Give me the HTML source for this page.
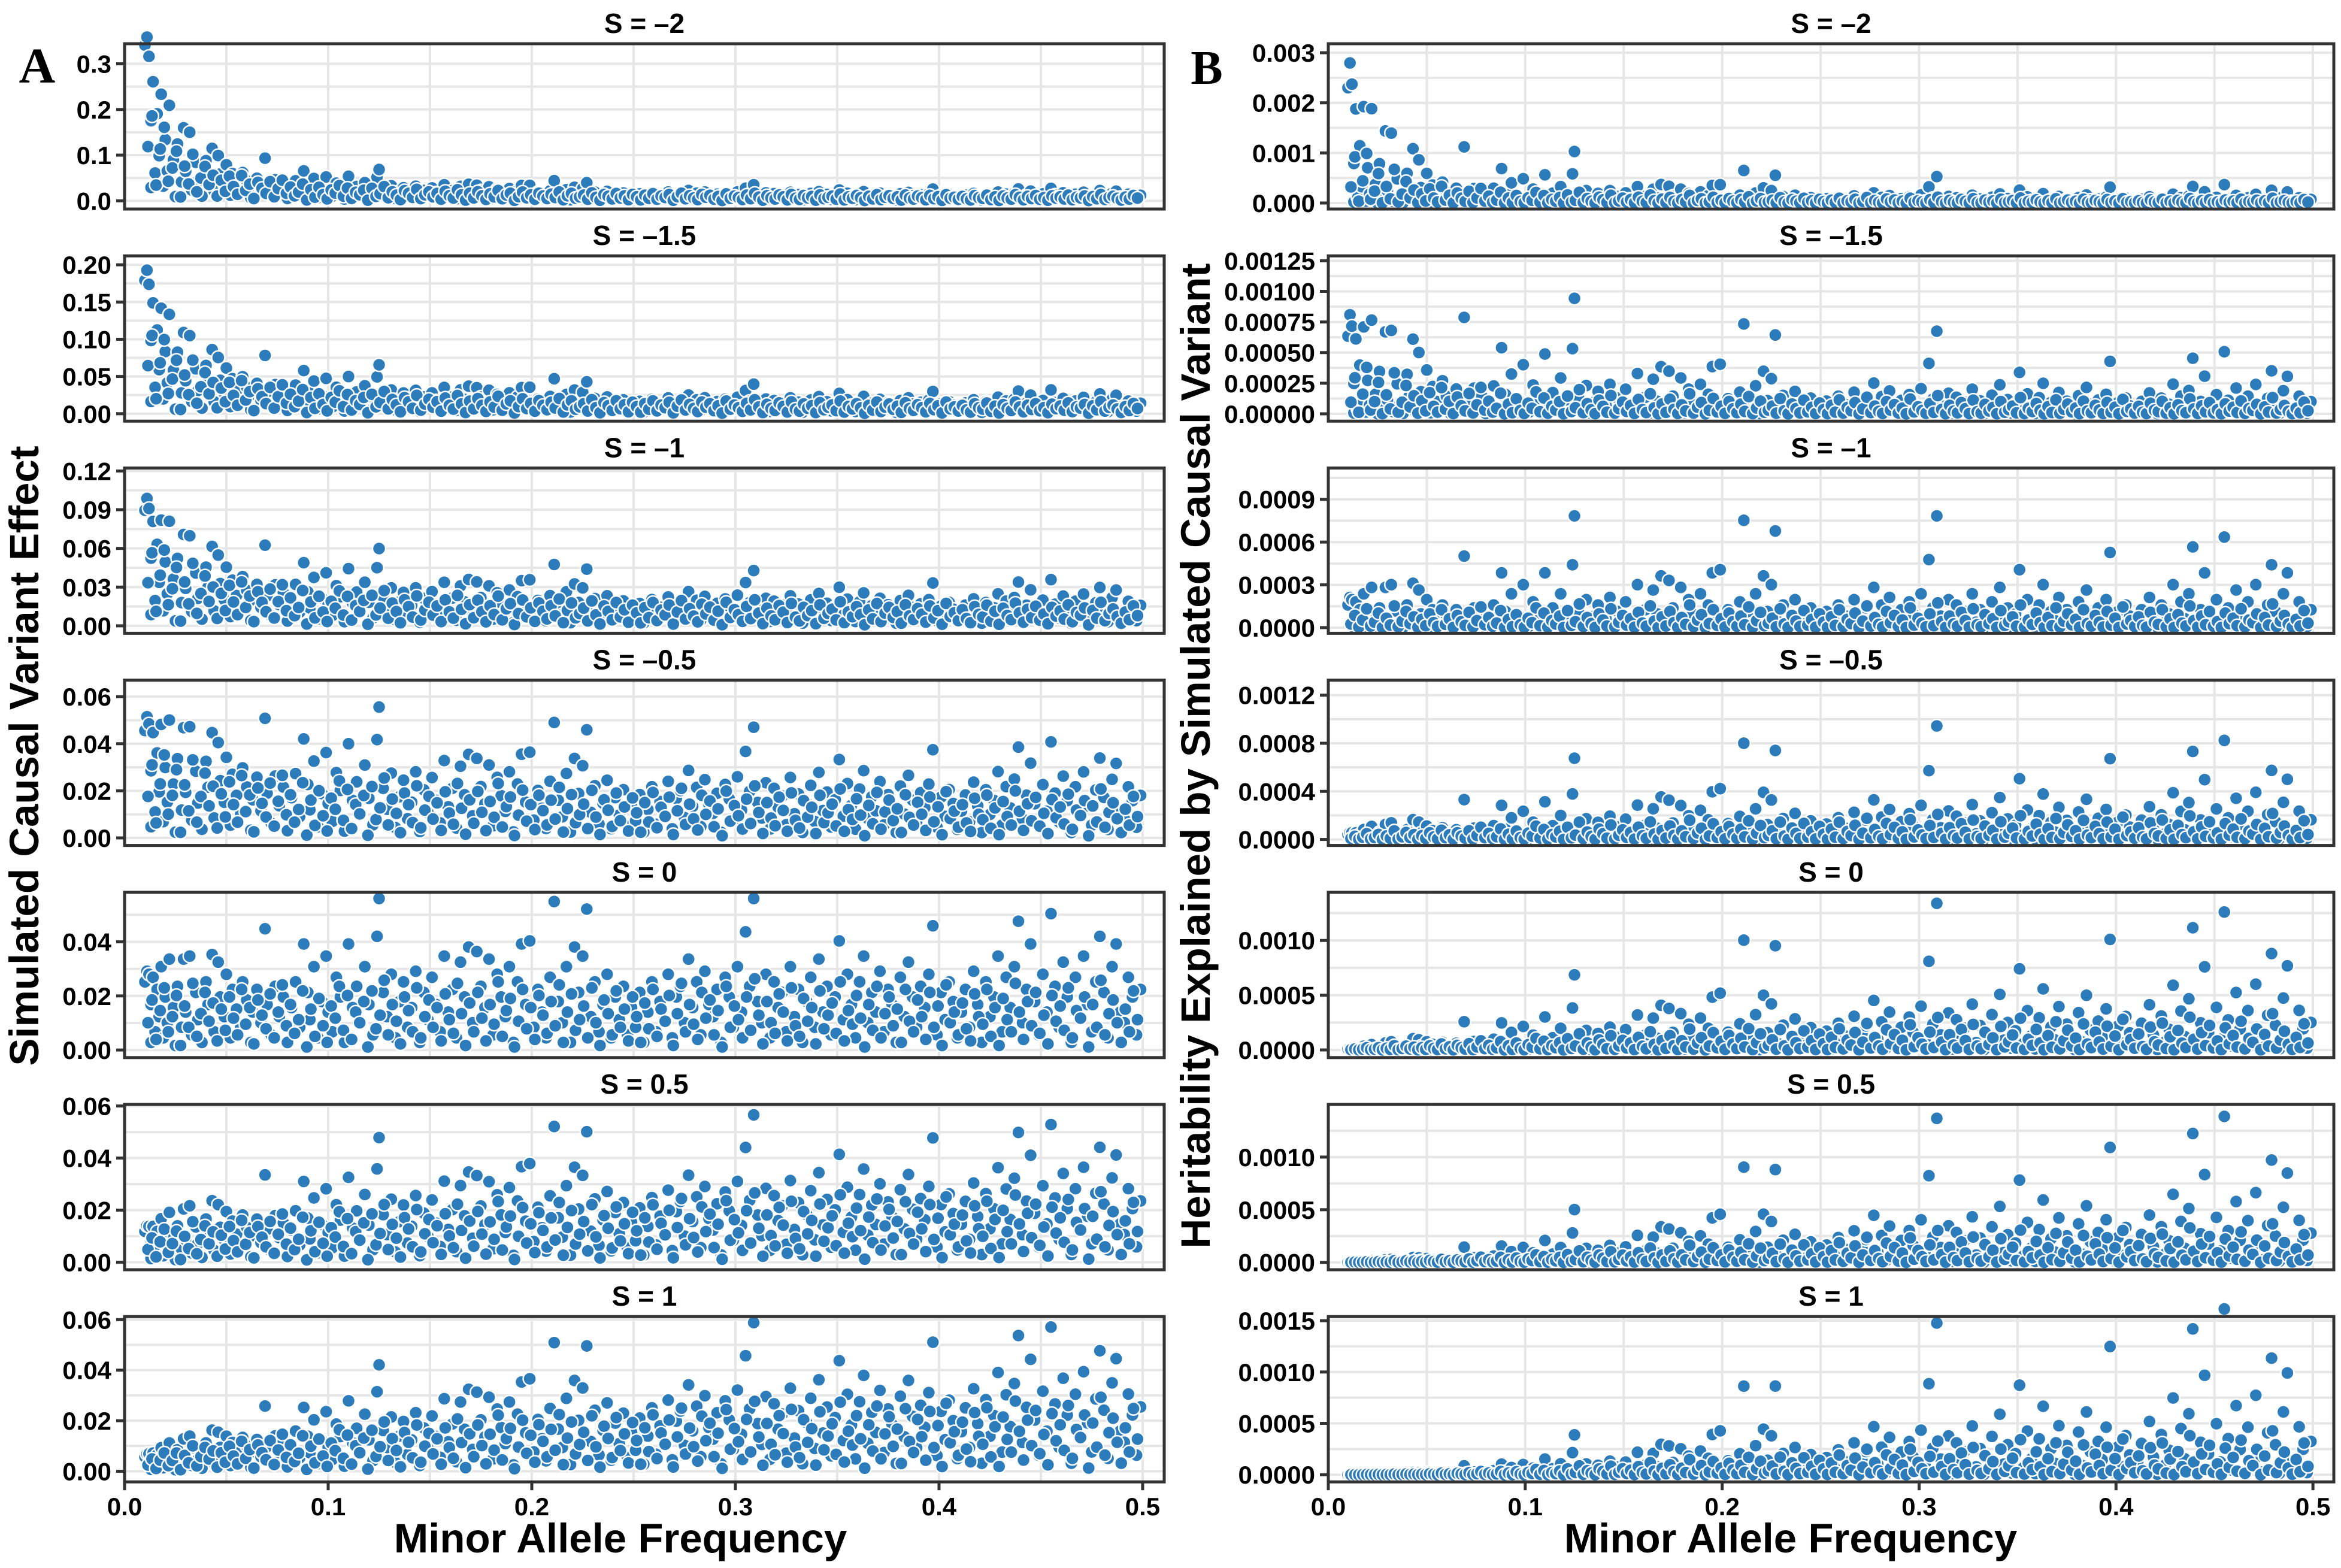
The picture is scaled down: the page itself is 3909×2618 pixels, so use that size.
<!DOCTYPE html>
<html><head><meta charset="utf-8">
<style>
html,body{margin:0;padding:0;background:#fff;}
svg{display:block;font-family:"Liberation Sans","DejaVu Sans",sans-serif;}
</style></head>
<body>
<svg id="fig" width="3909" height="2618" viewBox="0 0 3909 2618">
<text x="62" y="138" font-family="Liberation Serif, serif" font-weight="bold" font-size="84" text-anchor="middle">A</text>
<text x="2015" y="140" font-family="Liberation Serif, serif" font-weight="bold" font-size="80" text-anchor="middle">B</text>
<text transform="translate(64,1262) rotate(-90)" font-weight="bold" font-size="69" text-anchor="middle">Simulated Causal Variant Effect</text>
<text transform="translate(2020,1262) rotate(-90)" font-weight="bold" font-size="69" text-anchor="middle">Heritability Explained by Simulated Causal Variant</text>
<text x="1036" y="2592" font-weight="bold" font-size="69" text-anchor="middle">Minor Allele Frequency</text>
<text x="2990" y="2592" font-weight="bold" font-size="69" text-anchor="middle">Minor Allele Frequency</text>
</svg>
<script>
// shared variants: minor allele frequency and standardized effect magnitude
const maf=[0.010,0.011,0.012,0.013,0.013,0.014,0.015,0.016,0.017,0.018,0.019,0.020,0.021,0.022,0.024,0.025,0.026,0.028,0.029,0.030,0.032,0.033,0.035,0.036,0.038,0.040,0.041,0.043,0.044,0.046,0.047,0.049,0.050,0.052,0.053,0.055,0.057,0.058,0.060,0.062,0.063,0.065,0.067,0.069,0.070,0.072,0.074,0.076,0.078,0.080,0.082,0.084,0.086,0.088,0.090,0.091,0.093,0.095,0.097,0.099,0.100,0.102,0.104,0.106,0.108,0.110,0.112,0.114,0.116,0.118,0.120,0.122,0.124,0.125,0.127,0.129,0.131,0.133,0.135,0.137,0.139,0.141,0.143,0.145,0.147,0.149,0.151,0.153,0.155,0.157,0.159,0.161,0.163,0.165,0.167,0.169,0.171,0.173,0.175,0.177,0.179,0.181,0.183,0.185,0.187,0.189,0.191,0.193,0.195,0.197,0.199,0.201,0.203,0.205,0.207,0.209,0.211,0.213,0.215,0.217,0.219,0.221,0.223,0.225,0.227,0.229,0.231,0.233,0.235,0.237,0.239,0.241,0.243,0.245,0.247,0.249,0.251,0.253,0.255,0.257,0.259,0.261,0.263,0.265,0.267,0.269,0.271,0.273,0.275,0.277,0.279,0.281,0.283,0.285,0.287,0.289,0.291,0.293,0.295,0.297,0.299,0.301,0.303,0.305,0.307,0.309,0.311,0.313,0.315,0.317,0.319,0.321,0.323,0.325,0.327,0.329,0.331,0.333,0.335,0.337,0.339,0.341,0.343,0.345,0.347,0.349,0.351,0.353,0.355,0.357,0.359,0.361,0.363,0.365,0.367,0.369,0.371,0.373,0.375,0.377,0.379,0.381,0.383,0.385,0.387,0.389,0.391,0.393,0.395,0.397,0.399,0.401,0.403,0.405,0.407,0.409,0.411,0.413,0.415,0.417,0.419,0.421,0.423,0.425,0.427,0.429,0.431,0.433,0.435,0.437,0.439,0.441,0.443,0.445,0.447,0.449,0.451,0.453,0.455,0.457,0.459,0.461,0.463,0.465,0.467,0.469,0.471,0.473,0.475,0.477,0.479,0.481,0.483,0.485,0.487,0.489,0.491,0.493,0.495,0.497,0.499,
0.0115,0.0135,0.0155,0.0175,0.0195,0.0215,0.0235,0.0255,0.0275,0.0295,0.0315,0.0335,0.0355,0.0375,0.0395,0.0415,0.0435,0.0455,0.0475,0.0495,0.0515,0.0535,0.0555,0.0575,0.0595,0.0615,0.0635,0.0655,0.0675,0.0695,0.0715,0.0735,0.0755,0.0775,0.0795,0.0815,0.0835,0.0855,0.0875,0.0895,0.0915,0.0935,0.0955,0.0975,0.0995,0.1015,0.1035,0.1055,0.1075,0.1095,0.1115,0.1135,0.1155,0.1175,0.1195,0.1215,0.1235,0.1255,0.1275,0.1295,0.1315,0.1335,0.1355,0.1375,0.1395,0.1415,0.1435,0.1455,0.1475,0.1495,0.1515,0.1535,0.1555,0.1575,0.1595,0.1615,0.1635,0.1655,0.1675,0.1695,0.1715,0.1735,0.1755,0.1775,0.1795,0.1815,0.1835,0.1855,0.1875,0.1895,0.1915,0.1935,0.1955,0.1975,0.1995,0.2015,0.2035,0.2055,0.2075,0.2095,0.2115,0.2135,0.2155,0.2175,0.2195,0.2215,0.2235,0.2255,0.2275,0.2295,0.2315,0.2335,0.2355,0.2375,0.2395,0.2415,0.2435,0.2455,0.2475,0.2495,0.2515,0.2535,0.2555,0.2575,0.2595,0.2615,0.2635,0.2655,0.2675,0.2695,0.2715,0.2735,0.2755,0.2775,0.2795,0.2815,0.2835,0.2855,0.2875,0.2895,0.2915,0.2935,0.2955,0.2975,0.2995,0.3015,0.3035,0.3055,0.3075,0.3095,0.3115,0.3135,0.3155,0.3175,0.3195,0.3215,0.3235,0.3255,0.3275,0.3295,0.3315,0.3335,0.3355,0.3375,0.3395,0.3415,0.3435,0.3455,0.3475,0.3495,0.3515,0.3535,0.3555,0.3575,0.3595,0.3615,0.3635,0.3655,0.3675,0.3695,0.3715,0.3735,0.3755,0.3775,0.3795,0.3815,0.3835,0.3855,0.3875,0.3895,0.3915,0.3935,0.3955,0.3975,0.3995,0.4015,0.4035,0.4055,0.4075,0.4095,0.4115,0.4135,0.4155,0.4175,0.4195,0.4215,0.4235,0.4255,0.4275,0.4295,0.4315,0.4335,0.4355,0.4375,0.4395,0.4415,0.4435,0.4455,0.4475,0.4495,0.4515,0.4535,0.4555,0.4575,0.4595,0.4615,0.4635,0.4655,0.4675,0.4695,0.4715,0.4735,0.4755,0.4775,0.4795,0.4815,0.4835,0.4855,0.4875,0.4895,0.4915,0.4935,0.4955,0.4975];
const effectZ=[.45,.52,.50,.05,.30,.48,.12,.40,.22,.55,.08,.35,.18,.60,.28,.03,.42,.15,.60,.25,.62,.10,.38,.20,.05,.45,.30,.63,.12,.58,.35,.22,.50,.08,.40,.27,.15,.45,.33,.05,.25,.40,.18,.80,.30,.10,.42,.22,.35,.05,.28,.45,.15,.70,.38,.20,.55,.08,.32,.62,.25,.12,.48,.35,.05,.70,.28,.42,.18,.55,.30,.10,.75,1.0,.38,.22,.50,.08,.32,.45,.15,.28,.52,.05,.38,.20,.48,.30,.12,.62,.25,.40,.08,.58,.35,.68,.18,.65,.42,.28,.60,.10,.50,.35,.22,.55,.05,.45,.70,.30,.72,.15,.40,.25,.08,.48,.98,.32,.18,.55,.05,.68,.38,.62,.93,.22,.45,.12,.30,.50,.08,.35,.20,.42,.10,.28,.15,.38,.05,.25,.45,.12,.32,.20,.50,.08,.35,.42,.18,.60,.28,.45,.10,.52,.30,.22,.40,.05,.48,.35,.15,.55,.25,.78,.42,1.0,.32,.18,.50,.08,.45,.28,.38,.12,.55,.22,.40,.05,.32,.48,.15,.60,.25,.42,.10,.35,.72,.20,.50,.30,.08,.45,.62,.18,.38,.25,.52,.12,.40,.30,.05,.48,.22,.58,.35,.15,.42,.28,.50,.82,.10,.38,.20,.45,.32,.08,.25,.40,.15,.52,.30,.05,.45,.22,.35,.62,.12,.48,.28,.55,.85,.18,.40,.70,.32,.10,.50,.25,.90,.42,.15,.58,.35,.05,.48,.22,.62,.30,.12,.45,.75,.38,.08,.55,.70,.25,.18,.48,.35,.10,.40,
.18,.33,.07,.26,.41,.12,.22,.36,.03,.29,.15,.44,.09,.24,.38,.19,.31,.06,.27,.13,.35,.21,.10,.40,.17,.28,.04,.33,.23,.14,.37,.08,.25,.43,.16,.30,.11,.20,.39,.02,
.27,.09,.34,.16,.05,.29,.21,.42,.13,.36,.07,.25,.18,.32,.02,.39,.14,.23,.46,.10,.30,.19,.04,.35,.26,.12,.41,.08,.22,.33,.15,.28,.06,.37,.20,.11,.44,.24,.03,.31,
.12,.38,.21,.06,.30,.17,.45,.09,.26,.34,.02,.19,.40,.14,.28,.07,.36,.23,.11,.32,.16,.43,.05,.25,.37,.13,.20,.29,.08,.41,.18,.03,.33,.24,.10,.39,.15,.27,.06,.35,
.22,.05,.31,.14,.40,.09,.27,.19,.36,.03,.24,.44,.12,.30,.17,.07,.38,.21,.33,.10,.26,.02,.42,.15,.29,.20,.08,.35,.13,.47,.23,.04,.32,.18,.11,.37,.25,.06,.41,.16,
.09,.34,.19,.28,.04,.39,.14,.23,.31,.11,.45,.06,.26,.17,.36,.21,.02,.30,.13,.42,.08,.24,.35,.16,.27,.05,.40,.19,.12,.33,.22,.07,.38,.15,.29,.03,.43,.18,.25,.10,
.31,.14,.06,.37,.22,.17,.40,.09,.28,.03,.34,.20,.12,.44,.25,.07,.32,.16,.38,.11,.23,.04,.36,.19,.29,.13,.41,.08,.26,.21,.35,.02,.30,.15,.46,.10,.24,.33,.18,.05,
.27,.12,.39,.20,.08];
// selection coefficients per row and effect scaling per row
const selection=[-2,-1.5,-1,-0.5,0,0.5,1];
const titles=["S = \u20132","S = \u20131.5","S = \u20131","S = \u20130.5","S = 0","S = 0.5","S = 1"];
const effectScale=[0.015,0.021,0.028,0.038,0.056,0.07,0.09];
// y-axis domains and tick labels
const yDomA=[[-0.018,0.344],[-0.010,0.212],[-0.0058,0.1223],[-0.0032,0.067],[-0.0028,0.0583],[-0.0029,0.0606],[-0.0042,0.0612]];
const yTicksA=[["0.0","0.1","0.2","0.3"],["0.00","0.05","0.10","0.15","0.20"],["0.00","0.03","0.06","0.09","0.12"],["0.00","0.02","0.04","0.06"],["0.00","0.02","0.04"],["0.00","0.02","0.04","0.06"],["0.00","0.02","0.04","0.06"]];
const yDomB=[[-0.00012,0.00318],[-0.00006,0.00129],[-0.00004,0.00112],[-0.00005,0.001325],[-0.00007,0.00144],[-0.00007,0.0015],[-0.00007,0.00154]];
const yTicksB=[["0.000","0.001","0.002","0.003"],["0.00000","0.00025","0.00050","0.00075","0.00100","0.00125"],["0.0000","0.0003","0.0006","0.0009"],["0.0000","0.0004","0.0008","0.0012"],["0.0000","0.0005","0.0010"],["0.0000","0.0005","0.0010"],["0.0000","0.0005","0.0010","0.0015"]];
const xTicks=["0.0","0.1","0.2","0.3","0.4","0.5"];

const NS="http://www.w3.org/2000/svg";
const svg=document.getElementById('fig');
function mk(tag,attrs,parent){const e=document.createElementNS(NS,tag);for(const k in attrs)e.setAttribute(k,attrs[k]);(parent||svg).appendChild(e);return e;}

const cols=[{L:208,R:1944,xmax:0.5106,id:'a'},{L:2218,R:3897,xmax:0.5106,id:'b'}];
const TOP0=73,PITCH=354.2,H=276;

function effectA(i,r){const q=2*maf[i]*(1-maf[i]);return effectScale[r]*effectZ[i]*Math.pow(q,selection[r]/2);}
function herB(i,r){const a=effectA(i,r);return a*a*2*maf[i]*(1-maf[i]);}

cols.forEach((c,ci)=>{
  for(let r=0;r<7;r++){
    const top=TOP0+PITCH*r,bot=top+H;
    const dom=ci===0?yDomA[r]:yDomB[r];
    const ticks=ci===0?yTicksA[r]:yTicksB[r];
    const xs=v=>c.L+(v/c.xmax)*(c.R-c.L);
    const ys=v=>bot-(v-dom[0])/(dom[1]-dom[0])*H;
    const g=mk('g',{});
    
    
    const t=mk('text',{x:(c.L+c.R)/2,y:top-18,'font-size':46,'font-weight':'bold','text-anchor':'middle'},g);
    t.textContent=titles[r];
    
    
    for(let k=0;k<=10;k++){const x=xs(k*0.05);if(x>c.R)break;
      const l=mk('line',{x1:x,x2:x,y1:top,y2:bot,stroke:'#e6e6e6','stroke-width':4},g);
      
      }
    const vals=ticks.map(Number);const step=vals[1]-vals[0];
    for(let v=vals[0]-step/2;v<=dom[1];v+=step/2){if(v<dom[0])continue;const y=ys(v);
      const l=mk('line',{x1:c.L,x2:c.R,y1:y,y2:y,stroke:'#e6e6e6','stroke-width':4},g);
      
      }
    for(let i=0;i<maf.length;i++){
      const v=ci===0?effectA(i,r):herB(i,r);
      const p=mk('circle',{cx:xs(maf[i]),cy:ys(v),r:11,fill:'#2c7bba',stroke:'#fff','stroke-width':2.5},g);
      
      
    }
    const f=mk('rect',{x:c.L,y:top,width:c.R-c.L,height:H,fill:'none',stroke:'#333','stroke-width':5},g);
    
    
    ticks.forEach(s=>{const y=ys(Number(s));
      const tl=mk('line',{x1:c.L-14,x2:c.L,y1:y,y2:y,stroke:'#333','stroke-width':5},g);
      
      
      const tx=mk('text',{x:c.L-22,y:y+15,'font-size':42,'font-weight':'bold','text-anchor':'end'},g);
      tx.textContent=s;
      
      });
    if(r===6){
      xTicks.forEach(s=>{const x=xs(Number(s));
        const tl=mk('line',{x1:x,x2:x,y1:bot,y2:bot+14,stroke:'#333','stroke-width':5},g);
        
        
        const tx=mk('text',{x:x,y:bot+56,'font-size':42,'font-weight':'bold','text-anchor':'middle'},g);
        tx.textContent=s;
        
        });
    }
  }
});
</script>
</body></html>
